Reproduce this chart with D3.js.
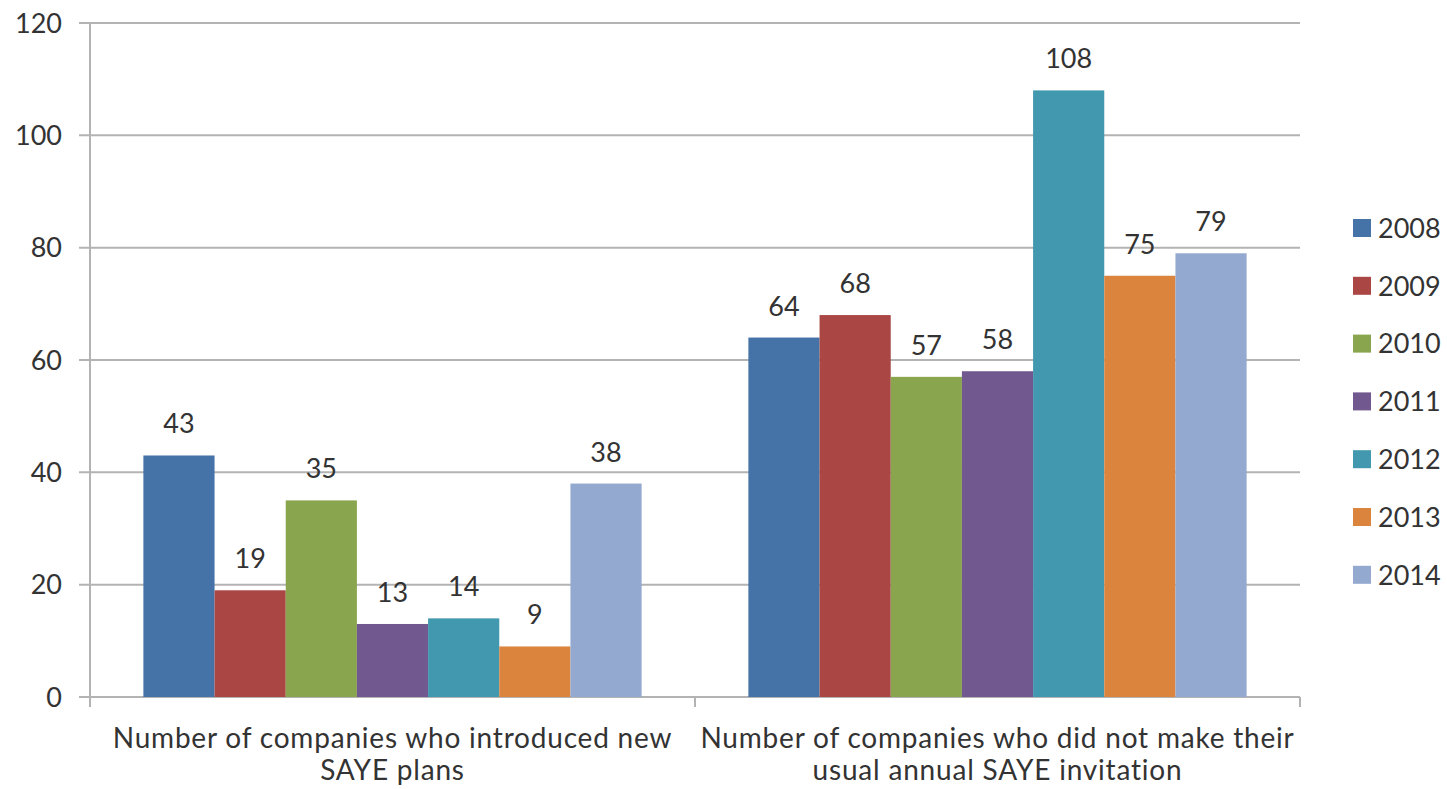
<!DOCTYPE html>
<html>
<head>
<meta charset="utf-8">
<script src="https://cdn.jsdelivr.net/npm/d3@7"></script>
<style>
  html, body { margin: 0; padding: 0; background: #fff; }
  svg { display: block; }
  text { font-family: "Lato", "Open Sans", sans-serif; fill: #333; }
</style>
</head>
<body>
<svg id="chart" width="1447" height="789"></svg>
<script>
// Categories (two lines each) and yearly series
const categories = [
  ["Number of companies who introduced new", "SAYE plans"],
  ["Number of companies who did not make their", "usual annual SAYE invitation"]
];
const years = ["2008", "2009", "2010", "2011", "2012", "2013", "2014"];
const introducedNew = [43, 19, 35, 13, 14, 9, 38];
const noInvitation = [64, 68, 57, 58, 108, 75, 79];
const seriesColors = ["#4572A7", "#AA4643", "#89A54E", "#71588F", "#4198AF", "#DB843D", "#93A9CF"];
const yTicks = [0, 20, 40, 60, 80, 100, 120];

const values = [introducedNew, noInvitation];

const svg = d3.select("#chart");
const plot = { left: 90, right: 1300, top: 23, bottom: 697 };

const x0 = d3.scaleBand()
  .domain(d3.range(categories.length))
  .range([plot.left, plot.right])
  .paddingInner(0)
  .paddingOuter(0);

// bars fill the band with a 150% gap split on both sides
const x1 = d3.scaleBand()
  .domain(years)
  .range([0, x0.bandwidth()])
  .paddingOuter(0.75)
  .paddingInner(0);

const y = d3.scaleLinear().domain([0, 120]).range([plot.bottom, plot.top]);

// gridlines with outside tick marks
const gridColor = "#b3b3b3";
svg.append("g")
  .selectAll("line")
  .data(yTicks)
  .join("line")
  .attr("x1", plot.left - 11)
  .attr("x2", plot.right)
  .attr("y1", d => y(d))
  .attr("y2", d => y(d))
  .attr("stroke", gridColor)
  .attr("stroke-width", 2);

// y axis labels
svg.append("g")
  .selectAll("text")
  .data(yTicks)
  .join("text")
  .attr("x", 62)
  .attr("y", d => y(d))
  .attr("dy", "0.36em")
  .attr("text-anchor", "end")
  .style("font-size", "27px")
  .text(d => d);

// bars
const groups = svg.append("g")
  .selectAll("g")
  .data(values)
  .join("g")
  .attr("transform", (d, i) => `translate(${x0(i)},0)`);

groups.selectAll("rect")
  .data(d => d.map((v, j) => ({ year: years[j], value: v, color: seriesColors[j] })))
  .join("rect")
  .attr("x", d => x1(d.year))
  .attr("width", x1.bandwidth())
  .attr("y", d => y(d.value))
  .attr("height", d => y(0) - y(d.value))
  .attr("fill", d => d.color);

// value labels
groups.selectAll("text")
  .data(d => d.map((v, j) => ({ year: years[j], value: v })))
  .join("text")
  .attr("x", d => x1(d.year) + x1.bandwidth() / 2)
  .attr("y", d => y(d.value) - 22)
  .attr("text-anchor", "middle")
  .style("font-size", "27px")
  .text(d => d.value);

// y axis line
svg.append("line")
  .attr("x1", plot.left).attr("x2", plot.left)
  .attr("y1", plot.top).attr("y2", plot.bottom + 10)
  .attr("stroke", gridColor).attr("stroke-width", 2);

// category tick marks
svg.append("g")
  .selectAll("line")
  .data(d3.range(categories.length + 1))
  .join("line")
  .attr("x1", i => plot.left + i * x0.step())
  .attr("x2", i => plot.left + i * x0.step())
  .attr("y1", plot.bottom)
  .attr("y2", plot.bottom + 10)
  .attr("stroke", gridColor)
  .attr("stroke-width", 2);

// category labels
const catLabels = svg.append("g")
  .selectAll("text")
  .data(categories)
  .join("text")
  .attr("text-anchor", "middle")
  .style("font-size", "28px")
  .style("letter-spacing", "0.8px");
catLabels.selectAll("tspan")
  .data((d, i) => d.map(line => ({ line, i })))
  .join("tspan")
  .attr("x", d => x0(d.i) + x0.bandwidth() / 2)
  .attr("y", (d, k) => 748 + k * 32)
  .text(d => d.line);

// legend
const legend = svg.append("g")
  .selectAll("g")
  .data(years)
  .join("g")
  .attr("transform", (d, i) => `translate(1353,${228 + i * 57.8})`);
legend.append("rect")
  .attr("x", 0).attr("y", -9)
  .attr("width", 18).attr("height", 18)
  .attr("fill", (d, i) => seriesColors[i]);
legend.append("text")
  .attr("x", 25)
  .attr("dy", "0.36em")
  .style("font-size", "27px")
  .text(d => d);
</script>
</body>
</html>
